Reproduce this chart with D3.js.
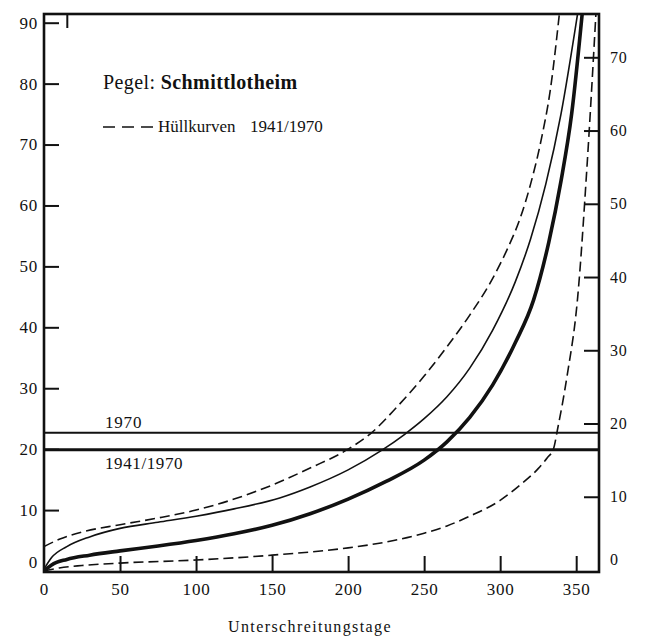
<!DOCTYPE html>
<html>
<head>
<meta charset="utf-8">
<script src="https://cdn.jsdelivr.net/npm/d3@7"></script>
<style>
  html, body { margin: 0; padding: 0; background: #fff; }
  svg { display: block; }
  text { font-family: "Liberation Serif", "DejaVu Serif", serif; fill: #111; }
</style>
</head>
<body>
<svg id="chart" width="649" height="640"></svg>
<script>
// Unterschreitungsdauerlinien, Pegel Schmittlotheim
// days below (x) and discharge (left axis) for each curve

// mean duration curve 1941/1970 (thick)
const meanDays   = [0, 5, 15, 30, 50, 75, 100, 125, 150, 175, 200, 225, 250, 265, 280, 295, 310, 322, 332, 340, 347, 354];
const meanValues = [0, 1.0, 1.9, 2.6, 3.3, 4.1, 5.0, 6.1, 7.5, 9.4, 11.8, 14.7, 18.2, 21.2, 25.2, 30.5, 37.5, 44.5, 54.0, 64.0, 75.0, 91.6];

// duration curve 1970 (thin)
const y1970Days   = [0, 5, 15, 30, 50, 75, 100, 125, 155, 175, 200, 222, 237, 250, 265, 280, 295, 310, 320, 330, 340, 351];
const y1970Values = [0.3, 2.2, 4.0, 5.6, 7.0, 8.0, 9.0, 10.2, 12.0, 13.8, 16.6, 19.8, 22.4, 25.0, 28.6, 33.3, 39.5, 47.5, 54.5, 63.5, 75.0, 91.6];

// upper envelope 1941/1970 (dashed)
const upperDays   = [0, 10, 25, 50, 75, 100, 125, 150, 175, 200, 215, 232, 250, 265, 280, 295, 305, 313, 320, 327, 333, 339];
const upperValues = [4.0, 5.2, 6.4, 7.6, 8.7, 10.0, 11.8, 14.1, 16.9, 20.0, 22.6, 26.9, 32.0, 36.8, 42.0, 48.0, 53.0, 57.8, 63.5, 70.8, 79.0, 91.6];

// lower envelope 1941/1970 (dashed)
const lowerDays   = [0, 10, 25, 50, 100, 150, 200, 230, 250, 265, 280, 300, 313, 325, 331, 335, 338, 344, 351, 357, 363];
const lowerValues = [0, 0.5, 0.9, 1.3, 1.8, 2.6, 3.8, 5.0, 6.2, 7.4, 9.0, 11.6, 14.1, 16.8, 18.6, 20.0, 23.6, 32.0, 45.0, 66.0, 91.6];

// mean-value lines
const meanLevel1970 = 22.7;
const meanLevel4170 = 19.9;

// tick labels
const xTicks      = [0, 50, 100, 150, 200, 250, 300, 350];
const yLeftTicks  = [0, 10, 20, 30, 40, 50, 60, 70, 80, 90];
const yRightTicks = [0, 10, 20, 30, 40, 50, 60, 70];
const topTicks    = [15];

const svg = d3.select("#chart");
const frame = { left: 44, right: 599, top: 14, bottom: 572 };

const x = d3.scaleLinear().domain([0, 365]).range([frame.left, frame.right]);
const yL = d3.scaleLinear().domain([0, 90]).range([571, 22.7]);
const yR = d3.scaleLinear().domain([0, 70]).range([570, 57.3]);

svg.append("rect").attr("width", 649).attr("height", 640).attr("fill", "#fff");

svg.append("clipPath").attr("id", "plotclip")
  .append("rect")
  .attr("x", frame.left).attr("y", frame.top)
  .attr("width", frame.right - frame.left).attr("height", frame.bottom - frame.top);

const plot = svg.append("g").attr("clip-path", "url(#plotclip)");

const line = d3.line()
  .x(d => x(d[0]))
  .y(d => yL(d[1]))
  .curve(d3.curveMonotoneX);

const zip = (a, b) => a.map((d, i) => [d, b[i]]);

// horizontal mean lines
plot.append("line")
  .attr("x1", frame.left).attr("x2", frame.right)
  .attr("y1", yL(meanLevel1970)).attr("y2", yL(meanLevel1970))
  .attr("stroke", "#111").attr("stroke-width", 2);
plot.append("line")
  .attr("x1", frame.left).attr("x2", frame.right)
  .attr("y1", yL(meanLevel4170)).attr("y2", yL(meanLevel4170))
  .attr("stroke", "#111").attr("stroke-width", 3);

// envelopes
[zip(upperDays, upperValues), zip(lowerDays, lowerValues)].forEach(pts => {
  plot.append("path")
    .attr("d", line(pts))
    .attr("fill", "none").attr("stroke", "#111")
    .attr("stroke-width", 1.6).attr("stroke-dasharray", "10,5");
});

// 1970 curve
plot.append("path")
  .attr("d", line(zip(y1970Days, y1970Values)))
  .attr("fill", "none").attr("stroke", "#111").attr("stroke-width", 1.6);

// mean curve 1941/1970
plot.append("path")
  .attr("d", line(zip(meanDays, meanValues)))
  .attr("fill", "none").attr("stroke", "#111").attr("stroke-width", 3.6);

// axes
const styleAxis = g => {
  g.select(".domain").remove();
  g.selectAll(".tick line").attr("stroke", "#111").attr("stroke-width", 2);
  g.selectAll(".tick text").attr("font-size", 17).attr("fill", "#111")
    .attr("font-family", "Liberation Serif, serif").attr("letter-spacing", "0.8px");
};

const gLeft = svg.append("g")
  .attr("transform", `translate(${frame.left},0)`)
  .call(d3.axisLeft(yL).tickValues(yLeftTicks).tickSize(-15).tickPadding(6).tickFormat(d3.format("d")))
  .call(styleAxis);
gLeft.selectAll(".tick").filter(d => d === 0).select("line").remove();
gLeft.selectAll(".tick").filter(d => d === 0).select("text").attr("dy", "-0.2em");

const gRight = svg.append("g")
  .attr("transform", `translate(${frame.right},0)`)
  .call(d3.axisRight(yR).tickValues(yRightTicks).tickSize(-15).tickPadding(11).tickFormat(d3.format("d")))
  .call(styleAxis);
gRight.selectAll(".tick text").attr("font-size", 16);
gRight.selectAll(".tick").filter(d => d === 0).select("line").remove();
gRight.selectAll(".tick").filter(d => d === 0).select("text").attr("dy", "-0.35em");

const gBottom = svg.append("g")
  .attr("transform", `translate(0,${frame.bottom})`)
  .call(d3.axisBottom(x).tickValues(xTicks).tickSize(-16).tickPadding(11).tickFormat(d3.format("d")))
  .call(styleAxis);
gBottom.selectAll(".tick").filter(d => d === 0).select("line").remove();

const gTop = svg.append("g")
  .attr("transform", `translate(0,${frame.top})`)
  .call(d3.axisTop(x).tickValues(topTicks).tickSize(-14).tickFormat(""))
  .call(styleAxis);

// frame
svg.append("rect")
  .attr("x", frame.left).attr("y", frame.top)
  .attr("width", frame.right - frame.left).attr("height", frame.bottom - frame.top)
  .attr("fill", "none").attr("stroke", "#111").attr("stroke-width", 2.6);

// x-axis title
svg.append("text")
  .attr("x", 310).attr("y", 632)
  .attr("text-anchor", "middle")
  .attr("font-size", 16).attr("letter-spacing", "1.4px")
  .text("Unterschreitungstage");

// station label
const title = svg.append("text").attr("x", 103).attr("y", 89).attr("font-size", 20).attr("letter-spacing", "0.4px");
title.append("tspan").text("Pegel: ");
title.append("tspan").attr("font-weight", "bold").text("Schmittlotheim");

// legend
svg.append("line")
  .attr("x1", 103).attr("x2", 153).attr("y1", 127).attr("y2", 127)
  .attr("stroke", "#111").attr("stroke-width", 1.6).attr("stroke-dasharray", "12,7");
svg.append("text").attr("x", 158).attr("y", 132).attr("font-size", 17)
  .text("Hüllkurven");
svg.append("text").attr("x", 250).attr("y", 132).attr("font-size", 17)
  .text("1941/1970");

// labels of the mean lines
svg.append("text").attr("x", 105).attr("y", 428).attr("font-size", 17).attr("letter-spacing", "0.8px").text("1970");
svg.append("text").attr("x", 105).attr("y", 469).attr("font-size", 17).attr("letter-spacing", "0.6px").text("1941/1970");
</script>
</body>
</html>
